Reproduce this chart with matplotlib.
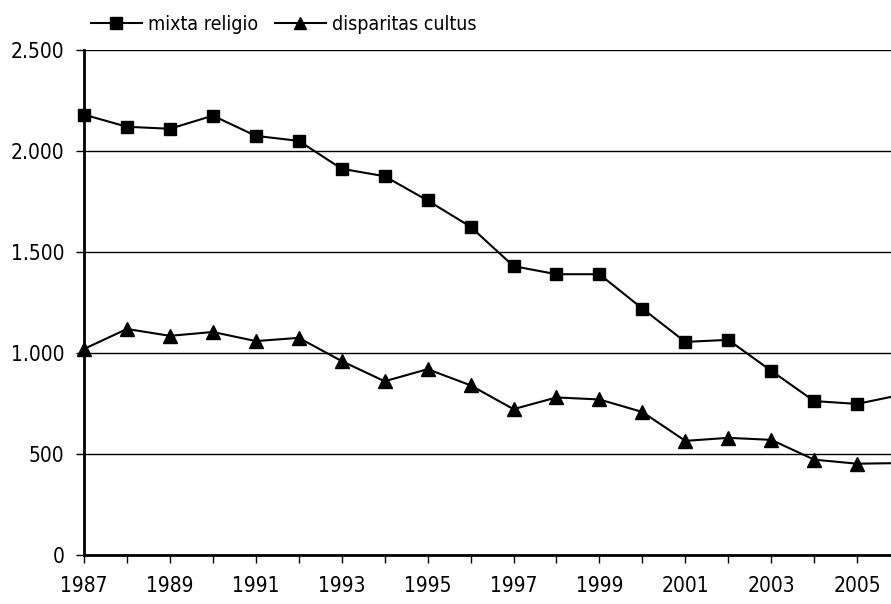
import matplotlib
matplotlib.use('Agg')
import matplotlib.pyplot as plt

plt.rcParams['font.family'] = ['DejaVu Sans']
plt.rcParams['font.stretch'] = 'condensed'

years = list(range(1987, 2007))
mixta = [2180, 2120, 2110, 2175, 2075, 2050, 1912, 1875, 1755, 1625,
         1430, 1390, 1390, 1220, 1055, 1065, 912, 762, 748, 792]
disparitas = [1020, 1119, 1085, 1104, 1059, 1075, 960, 860, 920, 840,
              722, 780, 770, 708, 565, 580, 570, 472, 452, 455]
ytick_vals = [0, 500, 1000, 1500, 2000, 2500]
ytick_labels = ['0', '500', '1.000', '1.500', '2.000', '2.500']

fig = plt.figure(figsize=(8.91, 6.04), dpi=100)
# axis runs past the right edge like the cropped original
ax = fig.add_axes([84 / 891, 49 / 604, 859 / 891, 505 / 604])

ax.plot(years, mixta, color='black', lw=1.5, marker='s', markersize=9,
        label='mixta religio', clip_on=False)
ax.plot(years, disparitas, color='black', lw=1.5, marker='^', markersize=10,
        label='disparitas cultus', clip_on=False)

ax.set_xlim(1987, 2007)
ax.set_ylim(0, 2500)
ax.set_yticks(ytick_vals)
ax.set_yticklabels(ytick_labels)
ax.set_xticks(years)
ax.set_xticklabels([str(y) if (y - 1987) % 2 == 0 else '' for y in years])
ax.tick_params(axis='both', direction='out', length=6, width=1, labelsize=15,
               color='black')
ax.tick_params(axis='x', pad=9)
ax.tick_params(axis='y', pad=8)

ax.yaxis.grid(True, color='black', lw=1)
ax.set_axisbelow(True)
for s in ['top', 'right']:
    ax.spines[s].set_visible(False)
for s in ['left', 'bottom']:
    ax.spines[s].set_linewidth(2)

leg = ax.legend(loc='lower left', bbox_to_anchor=(-0.003, 1.012), ncol=2,
                frameon=False, fontsize=14, handlelength=2.6,
                handletextpad=0.3, columnspacing=0.9, borderaxespad=0.1)
for h in leg.legend_handles:
    h.set_markersize(8)

fig.savefig('out.png', dpi=100)
